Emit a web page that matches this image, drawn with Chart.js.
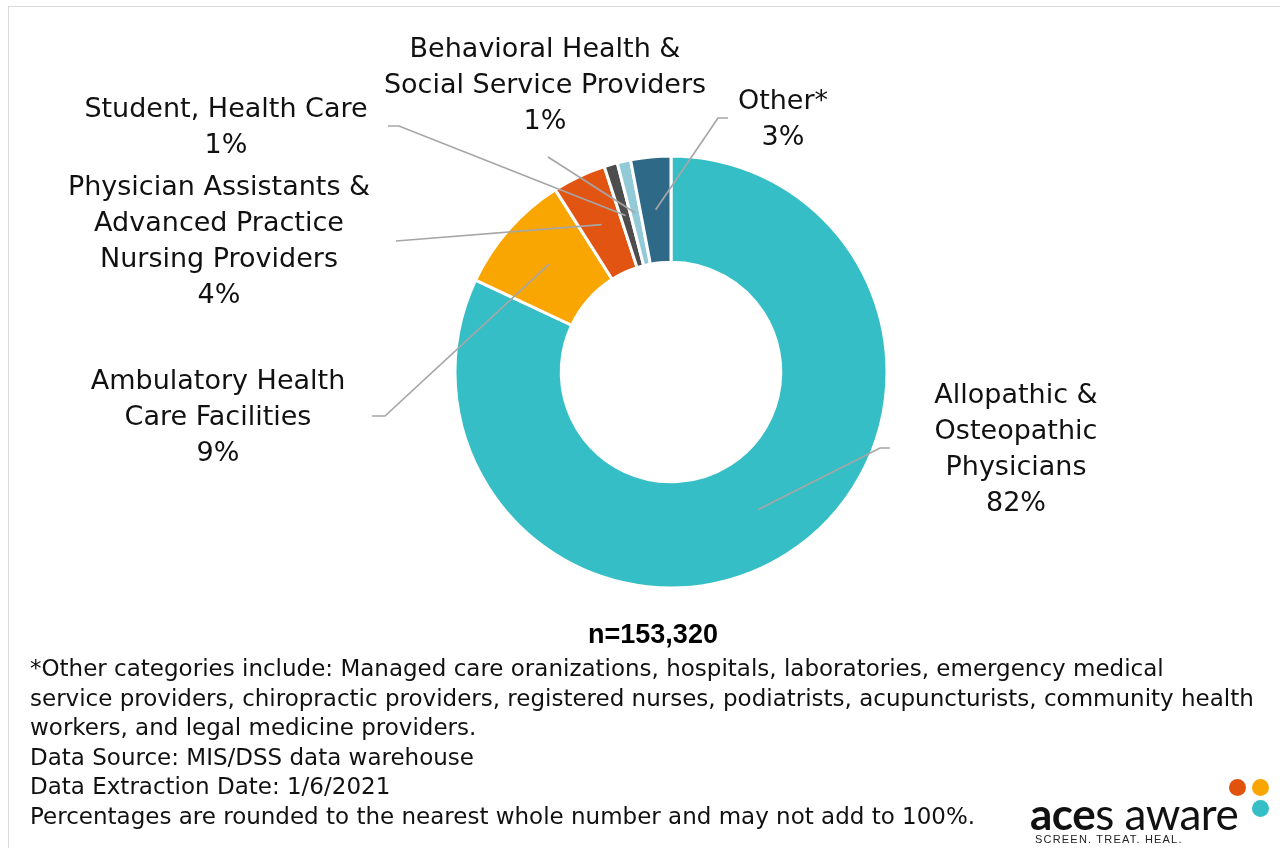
<!DOCTYPE html>
<html>
<head>
<meta charset="utf-8">
<script src="https://cdn.jsdelivr.net/npm/chart.js@4.4.1/dist/chart.umd.min.js"></script>
<style>
  html, body { margin: 0; padding: 0; background: #fff; }
  #wrap { position: relative; width: 1280px; height: 848px; overflow: hidden; }
  #frame { position: absolute; left: 8px; top: 6px; width: 1300px; height: 900px; border: 1.5px solid #d9d9d9; }
  #pie { position: absolute; left: 0; top: 0; }
  #total { position: absolute; left: 453px; width: 400px; top: 619px; text-align: center;
           font: bold 27px "Liberation Sans", Arial, sans-serif; color: #000; }
  #notes { position: absolute; left: 30px; top: 654px; width: 1240px; white-space: nowrap;
           font: 23px "DejaVu Sans", sans-serif; line-height: 29.5px; color: #111; }
  #logo { position: absolute; left: 1030px; top: 778px; width: 250px; height: 70px; }
  #logo .word { position: absolute; left: 0; top: 9px; font: 44px Lato, sans-serif; color: #111; letter-spacing: -0.5px; }
  #logo .word b { font-weight: 700; }
  #logo .tag { position: absolute; left: 5px; top: 55px; font: 11px "Liberation Sans", Arial, sans-serif; letter-spacing: 1.2px; color: #222; }
  #logo .dot { position: absolute; width: 17px; height: 17px; border-radius: 50%; }
</style>
</head>
<body>
<div id="wrap">
  <div id="frame"></div>
  <canvas id="pie" width="1280" height="848"></canvas>
  <div id="total"></div>
  <div id="notes">
    <div>*Other categories include: Managed care oranizations, hospitals, laboratories, emergency medical</div>
    <div>service providers, chiropractic providers, registered nurses, podiatrists, acupuncturists, community health</div>
    <div>workers, and legal medicine providers.</div>
    <div>Data Source: MIS/DSS data warehouse</div>
    <div>Data Extraction Date: 1/6/2021</div>
    <div>Percentages are rounded to the nearest whole number and may not add to 100%.</div>
  </div>
  <div id="logo">
    <span class="word"><b>ace</b>s aware</span>
    <span class="tag">SCREEN. TREAT. HEAL.</span>
    <span class="dot" style="left:199px;top:1px;background:#E2520F"></span>
    <span class="dot" style="left:222px;top:1px;background:#F9A602"></span>
    <span class="dot" style="left:222px;top:22px;background:#35BEC6"></span>
  </div>
</div>
<script>
// provider types, clockwise from 12 o'clock
const categories = [
  ['Allopathic &', 'Osteopathic', 'Physicians'],
  ['Ambulatory Health', 'Care Facilities'],
  ['Physician Assistants &', 'Advanced Practice', 'Nursing Providers'],
  ['Student, Health Care'],
  ['Behavioral Health &', 'Social Service Providers'],
  ['Other*']
];
const shares = [82, 9, 4, 1, 1, 3];
const sliceColors = ['#35BEC6', '#F9A602', '#E25412', '#4D4D4D', '#92CAD8', '#2E6A88'];
const totalProviders = 153320;

// where each label sits: text centre x, first line y, and the leader path from the label side
const labelLayout = [
  { x: 1016, y: 396, path: [[890, 448], [880, 448]] },
  { x: 218,  y: 382, path: [[372, 416], [385, 416]] },
  { x: 219,  y: 188, path: [[396, 241]] },
  { x: 226,  y: 110, path: [[388, 126], [399, 126]] },
  { x: 545,  y: 50,  path: [[548, 157]] },
  { x: 783,  y: 102, path: [[728, 118], [718, 118]] }
];
const lineHeight = 36;

document.getElementById('total').textContent = 'n=' + totalProviders.toLocaleString('en-US');

const calloutPlugin = {
  id: 'callouts',
  afterDatasetsDraw(chart) {
    const ctx = chart.ctx;
    const arcs = chart.getDatasetMeta(0).data;
    ctx.save();
    arcs.forEach((arc, i) => {
      const lay = labelLayout[i];
      const mid = arc.getCenterPoint();
      // leader line
      ctx.strokeStyle = '#A6A6A6';
      ctx.lineWidth = 1.7;
      ctx.beginPath();
      ctx.moveTo(lay.path[0][0], lay.path[0][1]);
      lay.path.slice(1).forEach(p => ctx.lineTo(p[0], p[1]));
      ctx.lineTo(mid.x, mid.y);
      ctx.stroke();
      // label text
      const lines = categories[i].concat([shares[i] + '%']);
      ctx.fillStyle = '#111';
      ctx.font = '27px "DejaVu Sans", sans-serif';
      ctx.textAlign = 'center';
      ctx.textBaseline = 'middle';
      lines.forEach((t, k) => ctx.fillText(t, lay.x, lay.y + k * lineHeight));
    });
    ctx.restore();
  }
};

new Chart(document.getElementById('pie').getContext('2d'), {
  type: 'doughnut',
  data: {
    labels: categories.map(c => c.join(' ')),
    datasets: [{
      data: shares,
      backgroundColor: sliceColors,
      borderColor: '#fff',
      borderWidth: 3
    }]
  },
  options: {
    responsive: false,
    animation: false,
    radius: 216,
    cutout: 108,
    layout: { padding: { left: 457, right: 395, top: 158, bottom: 262 } },
    plugins: {
      legend: { display: false },
      tooltip: { enabled: false }
    }
  },
  plugins: [calloutPlugin]
});
</script>
</body>
</html>
